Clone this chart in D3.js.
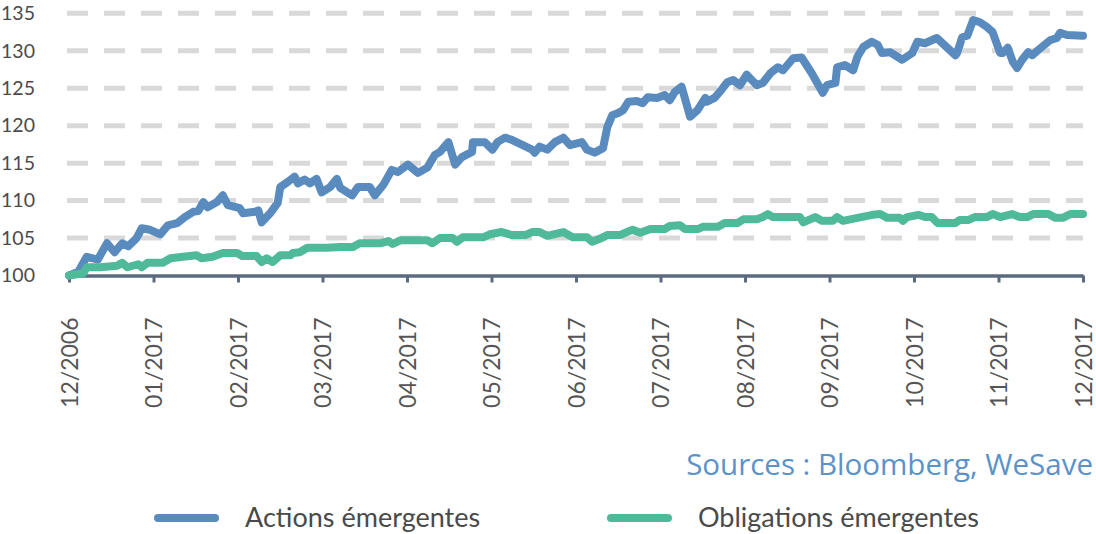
<!DOCTYPE html>
<html>
<head>
<meta charset="utf-8">
<script src="https://cdn.jsdelivr.net/npm/d3@7"></script>
<style>
  body{margin:0;background:#fff;}
  svg{display:block;}
</style>
</head>
<body>
<script>
// month offsets from the first tick (0 = 12/2006, 12 = 12/2017)
let monthLabels=["12/2006","01/2017","02/2017","03/2017","04/2017","05/2017","06/2017","07/2017","08/2017","09/2017","10/2017","11/2017","12/2017"];
let yTicks=[100,105,110,115,120,125,130,135];

let actionsM=[0,0.11,0.21,0.28,0.34,0.45,0.54,0.63,0.70,0.80,0.86,0.96,1.08,1.17,1.28,1.37,1.47,1.53,1.59,1.64,1.75,1.82,1.88,2.02,2.06,2.20,2.24,2.28,2.38,2.47,2.50,2.59,2.67,2.71,2.79,2.85,2.93,2.99,3.09,3.17,3.21,3.35,3.42,3.56,3.62,3.72,3.82,3.89,4.01,4.13,4.24,4.33,4.39,4.49,4.57,4.65,4.77,4.78,4.92,5.01,5.07,5.16,5.24,5.37,5.48,5.51,5.57,5.66,5.75,5.85,5.93,6.07,6.13,6.22,6.32,6.37,6.43,6.50,6.56,6.62,6.72,6.79,6.85,6.96,7.05,7.11,7.17,7.25,7.35,7.44,7.53,7.55,7.64,7.70,7.79,7.86,7.94,8.02,8.14,8.21,8.30,8.39,8.45,8.57,8.67,8.79,8.92,8.97,9.07,9.09,9.18,9.28,9.33,9.40,9.50,9.57,9.62,9.72,9.86,9.98,10.04,10.13,10.27,10.49,10.51,10.57,10.63,10.70,10.78,10.86,10.93,11.02,11.05,11.11,11.17,11.22,11.28,11.35,11.40,11.47,11.61,11.69,11.73,11.81,12];
let actionsV=[100,100.5,102.5,102.3,102.1,104.3,103.1,104.3,103.9,105.0,106.3,106.1,105.5,106.7,107.0,107.8,108.5,108.6,109.8,109.1,109.8,110.7,109.4,109.0,108.3,108.5,108.7,107.1,108.3,109.7,111.8,112.5,113.2,112.3,112.8,112.3,112.9,111.1,111.8,112.9,111.7,110.7,111.8,111.8,110.7,112.1,114.1,113.8,114.8,113.7,114.4,116.1,116.5,117.8,114.8,115.8,116.5,117.8,117.8,116.8,117.8,118.4,118.1,117.4,116.8,116.4,117.2,116.8,117.8,118.4,117.4,117.8,116.8,116.4,117.0,119.8,121.4,121.7,122.1,123.2,123.3,123.0,123.8,123.7,124.1,123.4,124.5,125.2,121.2,122.1,123.7,123.2,123.7,124.5,125.8,126.1,125.4,126.8,125.4,125.7,127.0,127.8,127.4,129.0,129.1,127.0,124.4,125.4,125.7,127.8,128.1,127.4,129.2,130.5,131.2,130.8,129.7,129.8,128.8,129.7,131.2,131.0,131.7,129.4,129.7,131.8,132.0,134.1,133.8,133.2,132.5,129.7,129.7,130.4,128.5,127.7,128.8,129.8,129.4,130.1,131.4,131.7,132.4,132.1,132.0];

let obligM=[0,0.17,0.21,0.37,0.57,0.63,0.69,0.82,0.86,0.93,1.11,1.20,1.35,1.51,1.57,1.70,1.82,1.99,2.05,2.22,2.28,2.34,2.41,2.50,2.62,2.65,2.73,2.82,3.05,3.21,3.36,3.44,3.68,3.78,3.83,3.92,4.24,4.30,4.39,4.54,4.59,4.66,4.90,4.98,5.12,5.24,5.40,5.48,5.57,5.66,5.81,5.85,5.96,6.13,6.19,6.28,6.37,6.52,6.60,6.67,6.76,6.88,7.05,7.11,7.23,7.29,7.44,7.50,7.68,7.76,7.91,7.98,8.14,8.21,8.27,8.33,8.65,8.69,8.83,8.91,9.04,9.09,9.16,9.33,9.51,9.60,9.68,9.83,9.87,9.92,10.05,10.13,10.21,10.28,10.49,10.54,10.64,10.72,10.86,10.93,11.02,11.16,11.25,11.34,11.41,11.59,11.67,11.76,11.85,12];
let obligV=[100,100.3,101.1,101.1,101.3,101.7,101.1,101.5,101.1,101.7,101.7,102.3,102.5,102.7,102.3,102.5,103.0,103.0,102.6,102.6,101.8,102.3,101.8,102.7,102.7,103.0,103.1,103.7,103.7,103.8,103.8,104.3,104.3,104.6,104.2,104.7,104.7,104.3,105.0,105.0,104.5,105.1,105.1,105.5,105.8,105.4,105.4,105.8,105.8,105.3,105.7,105.8,105.1,105.1,104.5,104.9,105.4,105.4,105.8,106.1,105.7,106.2,106.2,106.6,106.7,106.2,106.2,106.5,106.5,107.0,107.0,107.5,107.5,107.8,108.2,107.8,107.8,107.1,107.8,107.3,107.3,107.8,107.3,107.7,108.1,108.2,107.7,107.7,107.3,107.8,108.1,107.8,107.8,107.0,107.0,107.4,107.4,107.8,107.8,108.2,107.8,108.2,107.8,107.8,108.2,108.2,107.7,107.7,108.2,108.2];

let seriesNames=["Actions émergentes","Obligations émergentes"];
let seriesColors=["#5a8bbf","#4fba9a"];
let sourceText="Sources : Bloomberg, WeSave";

let w=1096,h=534;
let svg=d3.select("body").append("svg").attr("width",w).attr("height",h);

let xScale=d3.scaleLinear().domain([0,12]).range([69,1083]);
let yScale=d3.scaleLinear().domain([100,135]).range([275.5,13.3]);

// dashed grid
svg.append("g").selectAll("line").data(yTicks.filter(d=>d>100)).enter().append("line")
  .attr("x1",67).attr("x2",1083)
  .attr("y1",d=>yScale(d)).attr("y2",d=>yScale(d))
  .attr("stroke","#d9d9d9").attr("stroke-width",5).attr("stroke-dasharray","21,16");

// y labels
svg.append("g").selectAll("text").data(yTicks).enter().append("text")
  .attr("x",35).attr("y",d=>yScale(d)).attr("dy","0.35em")
  .attr("text-anchor","end").style("font","19.5px Lato").attr("fill","#4a4a4a")
  .text(d=>d);

// x axis
let xAxis=d3.axisBottom(xScale).tickValues(d3.range(13)).tickSize(7).tickSizeOuter(0).tickFormat(i=>monthLabels[i]);
let gx=svg.append("g").attr("transform","translate(0,275.5)").call(xAxis);
gx.select(".domain").attr("stroke","#5b6a7f").attr("stroke-width",3.5);
gx.selectAll(".tick line").attr("stroke","#5b6a7f").attr("stroke-width",3);
gx.selectAll(".tick text")
  .style("font","23px Lato").attr("fill","#555")
  .attr("text-anchor","end").attr("transform","rotate(-90)")
  .attr("x",-42).attr("y",0).attr("dy","0.35em");

let line=d3.line().x(d=>xScale(d[0])).y(d=>yScale(d[1]));
let actions=d3.zip(actionsM,actionsV);
let oblig=d3.zip(obligM,obligV);

[actions,oblig].forEach((s,i)=>{
  svg.append("path").datum(s).attr("d",line)
    .attr("fill","none").attr("stroke",seriesColors[i])
    .attr("stroke-width",8).attr("stroke-linejoin","round").attr("stroke-linecap","round");
});

// source
svg.append("text").attr("x",1093).attr("y",475).attr("text-anchor","end")
  .style("font","29.5px 'Open Sans'").attr("fill","#5b93c9").text(sourceText);

// legend
let legX=[158,611];
seriesNames.forEach((n,i)=>{
  svg.append("line").attr("x1",legX[i]).attr("x2",legX[i]+57).attr("y1",518).attr("y2",518)
    .attr("stroke",seriesColors[i]).attr("stroke-width",8).attr("stroke-linecap","round");
  svg.append("text").attr("x",legX[i]+87).attr("y",527)
    .style("font","27px Lato").attr("fill","#4a4a4a").text(n);
});
</script>
</body>
</html>
